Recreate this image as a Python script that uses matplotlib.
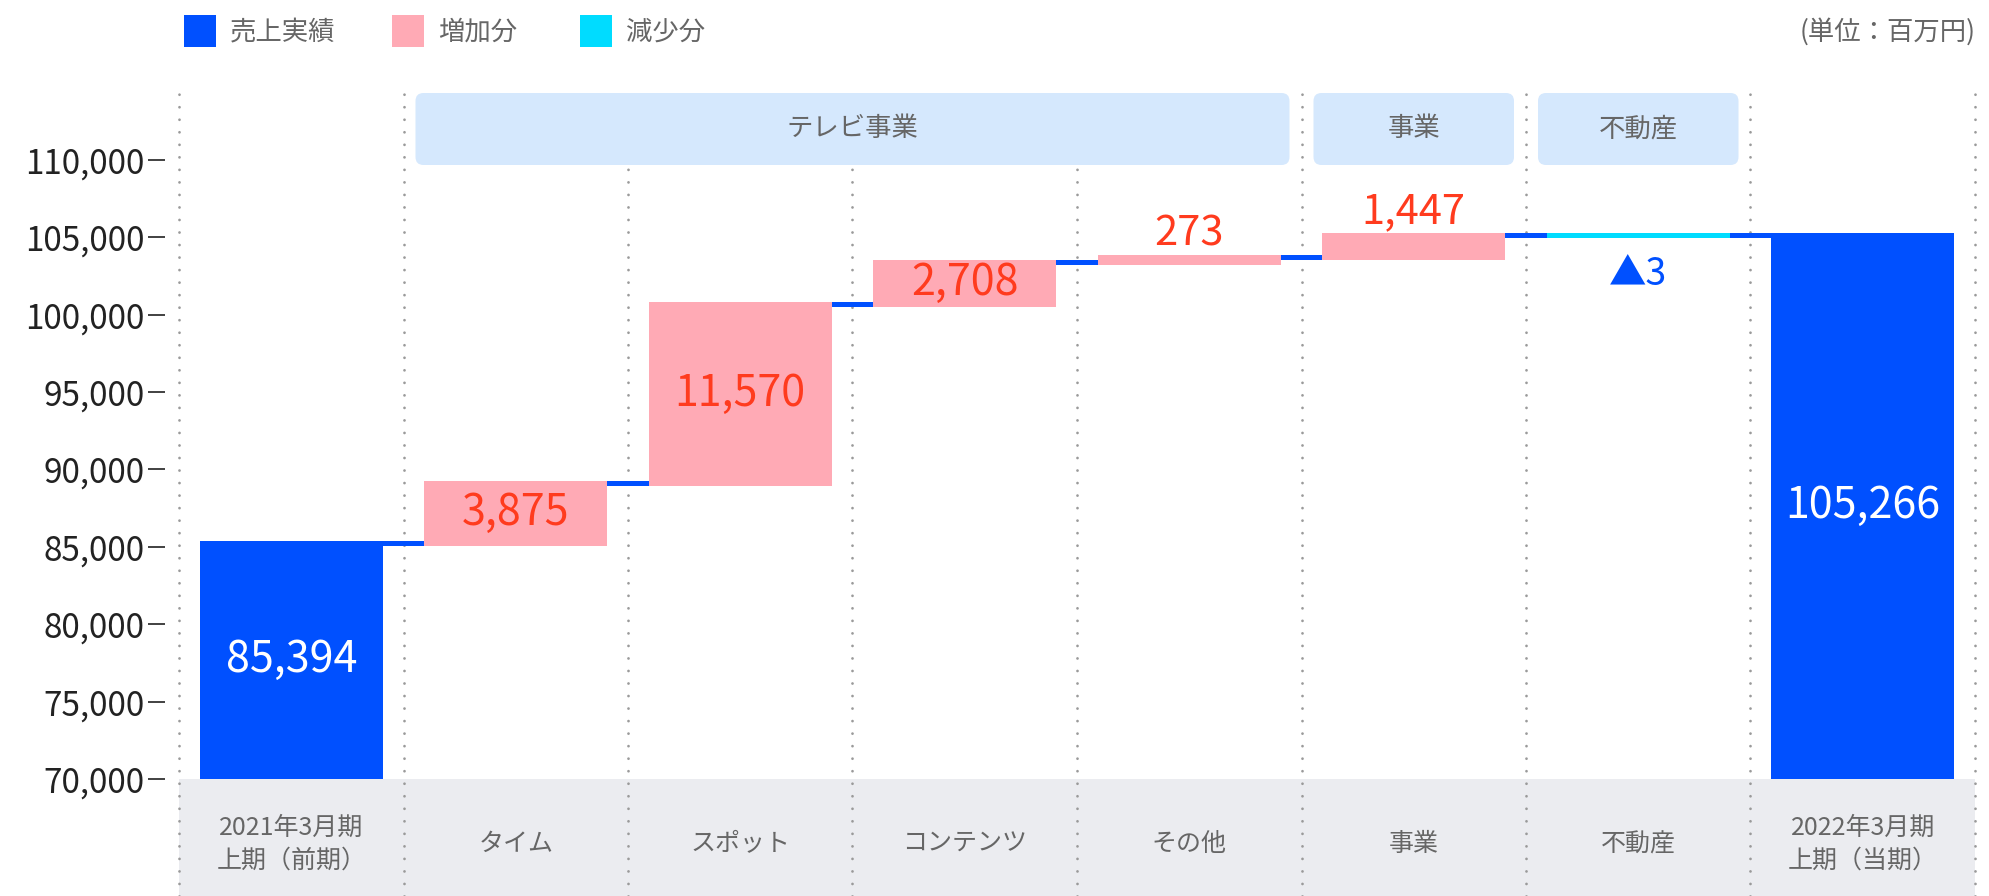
import matplotlib
matplotlib.use("Agg")
import matplotlib.pyplot as plt
import numpy as np
from matplotlib.patches import FancyBboxPatch, Rectangle
from matplotlib.ticker import FuncFormatter

plt.rcParams['font.family'] = ['Noto Sans CJK JP', 'DejaVu Sans']

# data
categories = ['2021年3月期\n上期（前期）', 'タイム', 'スポット', 'コンテンツ', 'その他',
              '事業', '不動産', '2022年3月期\n上期（当期）']
start_value = 85394
deltas = [3875, 11570, 2708, 273, 1447, -3]
end_value = 105266
groups = [('テレビ事業', 1, 4), ('事業', 5, 5), ('不動産', 6, 6)]
legend_labels = ['売上実績', '増加分', '減少分']

BLUE = '#0050FF'
PINK = '#FFAAB5'
CYAN = '#00DCFF'
RED = '#FF3B1E'
BOXC = '#D5E8FD'
BAND = '#EBECF0'
GREY_TXT = '#666666'

W, H = 1990, 896
fig = plt.figure(figsize=(W / 100, H / 100), dpi=100)
ax_top_px = 92
ax = fig.add_axes([179 / W, 0, (1975 - 179) / W, (H - ax_top_px) / H])

ymin, ymax = 62442, 114380
ax.set_xlim(-0.5, 7.5)
ax.set_ylim(ymin, ymax)
per_px = (ymax - ymin) / (H - ax_top_px)
pad = 5 * per_px          # connector thickness
bar_w = 0.815

# grey band + dotted separators
ax.axhspan(ymin, 70000, color=BAND, lw=0, zorder=0)
for xb in np.arange(-0.5, 8, 1):
    ax.axvline(xb, color='#9A9A9A', lw=2.0, ls=(0, (0.01, 4.5)),
               dash_capstyle='round', zorder=0.5, clip_on=False)

# waterfall
levels = [start_value]
ax.bar(0, start_value - 70000, bottom=70000, width=bar_w, color=BLUE, zorder=2)
ax.text(0, (70000 + start_value) / 2, f'{start_value:,}', color='white',
        ha='center', va='center', fontsize=31, zorder=5)
cum = start_value
for i, d in enumerate(deltas, start=1):
    if d >= 0:
        ax.bar(i, d + pad, bottom=cum - pad, width=bar_w, color=PINK, zorder=2)
        if d > 2000:
            ax.text(i, cum + d / 2 - pad / 2, f'{d:,}', color=RED, ha='center',
                    va='center', fontsize=31, zorder=5)
        else:
            ax.annotate(f'{d:,}', (i, cum + d), xytext=(0, 7), textcoords='offset points',
                        color=RED, ha='center', va='baseline', fontsize=30, zorder=5)
    else:
        ax.bar(i, -d + pad, bottom=cum + d - pad, width=bar_w, color=CYAN, zorder=2)
        ax.annotate(f'▲{-d:,}', (i, cum + d - pad), xytext=(0, -12),
                    textcoords='offset points', color=BLUE, ha='center', va='top',
                    fontsize=27, zorder=5)
    cum += d
    levels.append(cum)
n = len(categories) - 1
ax.bar(n, end_value - 70000, bottom=70000, width=bar_w, color=BLUE, zorder=2)
ax.text(n, (70000 + end_value) / 2, f'{end_value:,}', color='white',
        ha='center', va='center', fontsize=31, zorder=5)

# connectors
for i, lv in enumerate(levels):
    ax.bar(i + 0.5, pad, bottom=lv - pad, width=1 - bar_w, color=BLUE, zorder=2)

# group header boxes
col_px = (1975 - 179) / 8
r = 8 / col_px
asp = per_px * col_px
box_lo, box_hi = ymax - 165 * per_px + ax_top_px * per_px, ymax - 1 * per_px
inset = 12 / col_px
for name, a, b in groups:
    x0 = a - 0.5 + inset
    x1 = b + 0.5 - inset
    ax.add_patch(FancyBboxPatch((x0, box_lo), x1 - x0, box_hi - box_lo,
                                boxstyle=f'round,pad=0,rounding_size={r}',
                                mutation_aspect=asp, fc=BOXC, ec='none',
                                zorder=3, clip_on=False))
    ax.text((x0 + x1) / 2, (box_lo + box_hi) / 2, name, color=GREY_TXT,
            ha='center', va='center', fontsize=19, zorder=4)

# category labels inside band
trans = ax.get_xaxis_transform()
for i, c in enumerate(categories):
    ax.text(i, (H - 844) / (H - ax_top_px), c, transform=trans, ha='center',
            va='center', fontsize=18, color=GREY_TXT, linespacing=1.35)

# y axis
ax.set_yticks(np.arange(70000, 110001, 5000))
ax.yaxis.set_major_formatter(FuncFormatter(lambda v, p: f'{int(v):,}'))
ax.set_xticks([])
for s in ['top', 'right', 'bottom']:
    ax.spines[s].set_visible(False)
ax.spines['left'].set_position(('outward', 10))
ax.spines['left'].set_color('none')
ax.tick_params(axis='y', length=12, width=1.3, color='#333333', pad=3,
               labelsize=24, labelcolor='#222222')

# legend
leg_cols = [BLUE, PINK, CYAN]
leg_x = [184, 392, 580]
for x, c, lab in zip(leg_x, leg_cols, legend_labels):
    fig.patches.append(Rectangle((x / W, (H - 47) / H), 32 / W, 32 / H,
                                 transform=fig.transFigure, fc=c, ec='none'))
    fig.text((x + 46) / W, (H - 32) / H, lab, ha='left', va='center',
             fontsize=19, color=GREY_TXT)
fig.text(1976 / W, (H - 32) / H, '(単位：百万円)', ha='right', va='center',
         fontsize=19, color=GREY_TXT)

fig.savefig('out.png', dpi=100)
